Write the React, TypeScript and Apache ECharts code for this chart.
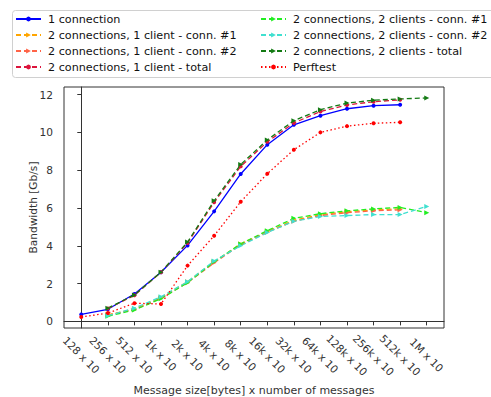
import React, { useEffect, useRef } from "react";
import * as echarts from "echarts";

// Message sizes (x axis categories)
const sizes = [
  "128 x 10", "256 x 10", "512 x 10", "1k x 10", "2k x 10", "4k x 10", "8k x 10",
  "16k x 10", "32k x 10", "64k x 10", "128k x 10", "256k x 10", "512k x 10", "1M x 10",
];
const yTicks = [0, 2, 4, 6, 8, 10, 12];

// Bandwidth in Gb/s per message size
type V = number | null;
const oneConn: V[] = [0.37, 0.64, 1.45, 2.6, 4.02, 5.82, 7.8, 9.35, 10.4, 10.88, 11.25, 11.41, 11.46];
const oneClientConn1: V[] = [null, 0.35, 0.65, 1.25, 2.1, 3.15, 4.1, 4.75, 5.35, 5.65, 5.8, 5.9, 5.95];
const oneClientConn2: V[] = [null, 0.33, 0.62, 1.22, 2.05, 3.1, 4.05, 4.72, 5.3, 5.6, 5.75, 5.85, 5.9];
const oneClientTotal: V[] = [null, 0.68, 1.38, 2.6, 4.15, 6.3, 8.2, 9.5, 10.5, 11.1, 11.45, 11.62, 11.72];
const twoClientConn1: V[] = [null, 0.27, 0.6, 1.2, 2.05, 3.15, 4.1, 4.8, 5.45, 5.7, 5.85, 5.95, 6.03, 5.75];
const twoClientConn2: V[] = [null, 0.3, 0.7, 1.3, 2.1, 3.2, 4.0, 4.7, 5.3, 5.55, 5.6, 5.65, 5.65, 6.08];
const twoClientTotal: V[] = [null, 0.7, 1.4, 2.6, 4.2, 6.38, 8.3, 9.6, 10.62, 11.2, 11.55, 11.7, 11.77, 11.82];
const perftest: V[] = [0.23, 0.44, 0.96, 0.92, 2.95, 4.53, 6.33, 7.81, 9.08, 10.0, 10.33, 10.48, 10.53];

const names = [
  "1 connection",
  "2 connections, 1 client - conn. #1",
  "2 connections, 1 client - conn. #2",
  "2 connections, 1 client - total",
  "2 connections, 2 clients - conn. #1",
  "2 connections, 2 clients - conn. #2",
  "2 connections, 2 clients - total",
  "Perftest",
];

const FONT = "DejaVu Sans, sans-serif";

const toPoints = (vals: V[]) =>
  vals.map((v, i) => (v == null ? null : [i, v])).filter((p) => p !== null);

function line(
  name: string,
  vals: V[],
  color: string,
  type: "solid" | "dashed" | "dotted",
  symbol: string,
  size: number,
  rotate = 0
) {
  return {
    name,
    type: "line",
    data: toPoints(vals),
    symbol,
    symbolSize: size,
    symbolRotate: rotate,
    showSymbol: true,
    lineStyle: {
      color,
      width: 1.3,
      type: type === "dashed" ? [5, 3] : type === "dotted" ? [1.5, 2.5] : "solid",
    },
    itemStyle: { color },
  };
}

export default function App() {
  const ref = useRef<HTMLDivElement>(null);

  useEffect(() => {
    if (!ref.current) return;
    const chart = echarts.init(ref.current, null, { renderer: "svg" });

    const legendCommon = {
      orient: "vertical",
      top: 13,
      padding: 0,
      itemWidth: 25,
      itemHeight: 6,
      itemGap: 4,
      textStyle: { fontFamily: FONT, fontSize: 11.2, color: "#111", lineHeight: 12, padding: [0, 0, 0, 2] },
    };

    chart.setOption({
      animation: false,
      backgroundColor: "#fff",
      grid: {
        left: 64,
        right: 47,
        top: 87,
        bottom: 69,
        containLabel: false,
        outerBoundsMode: "none",
        show: true,
        borderColor: "#333",
        borderWidth: 1,
      },
      legend: [
        { ...legendCommon, left: 15, data: names.slice(0, 4) },
        { ...legendCommon, left: 260, data: names.slice(4) },
      ],
      graphic: [
        {
          type: "rect",
          z: 0,
          shape: { x: 12.5, y: 10.5, width: 500, height: 67, r: 3 },
          style: { fill: "#fff", stroke: "#d0d0d0", lineWidth: 1 },
        },
      ],
      xAxis: {
        type: "value",
        min: -0.65,
        max: 13.65,
        splitLine: { show: false },
        axisLine: { lineStyle: { color: "#333" } },
        axisTick: { show: true, length: 4, customValues: sizes.map((_, i) => i), lineStyle: { color: "#333" } },
        axisLabel: {
          customValues: sizes.map((_, i) => i),
          formatter: (v: number) => sizes[Math.round(v)] ?? "",
          rotate: -45,
          align: "center",
          verticalAlign: "middle",
          margin: 27,
          fontFamily: FONT,
          fontSize: 10.6,
          color: "#333",
          hideOverlap: false,
        },
        name: "Message size[bytes] x number of messages",
        nameLocation: "middle",
        nameGap: 57,
        nameMoveOverlap: false,
        nameTextStyle: { fontFamily: FONT, fontSize: 11, color: "#333" },
      },
      yAxis: {
        type: "value",
        min: -0.35,
        max: 12.4,
        splitLine: { show: false },
        axisLine: { show: true, lineStyle: { color: "#333" } },
        axisTick: { show: true, length: 4, customValues: yTicks, lineStyle: { color: "#333" } },
        axisLabel: {
          customValues: yTicks,
          margin: 11,
          fontFamily: FONT,
          fontSize: 10.6,
          color: "#333",
        },
        name: "Bandwidth [Gb/s]",
        nameLocation: "middle",
        nameGap: 26,
        nameMoveOverlap: false,
        nameTextStyle: { fontFamily: FONT, fontSize: 10.6, color: "#333" },
      },
      series: [
        line(names[0], oneConn, "#0000ff", "solid", "circle", 4),
        line(names[1], oneClientConn1, "#ffa500", "dashed", "triangle", 5, -90),
        line(names[2], oneClientConn2, "#ff6347", "dashed", "triangle", 5, -90),
        line(names[3], oneClientTotal, "#dc143c", "dashed", "circle", 4),
        line(names[4], twoClientConn1, "#22ee22", "dashed", "triangle", 5, -90),
        line(names[5], twoClientConn2, "#40e0d0", "dashed", "triangle", 5, -90),
        line(names[6], twoClientTotal, "#137a13", "dashed", "triangle", 5, -90),
        line(names[7], perftest, "#ff0000", "dotted", "circle", 4),
      ],
    });

    return () => chart.dispose();
  }, []);

  return (
    <div
      ref={ref}
      style={{ position: "fixed", left: 0, top: 0, width: 491, height: 397 }}
    />
  );
}
